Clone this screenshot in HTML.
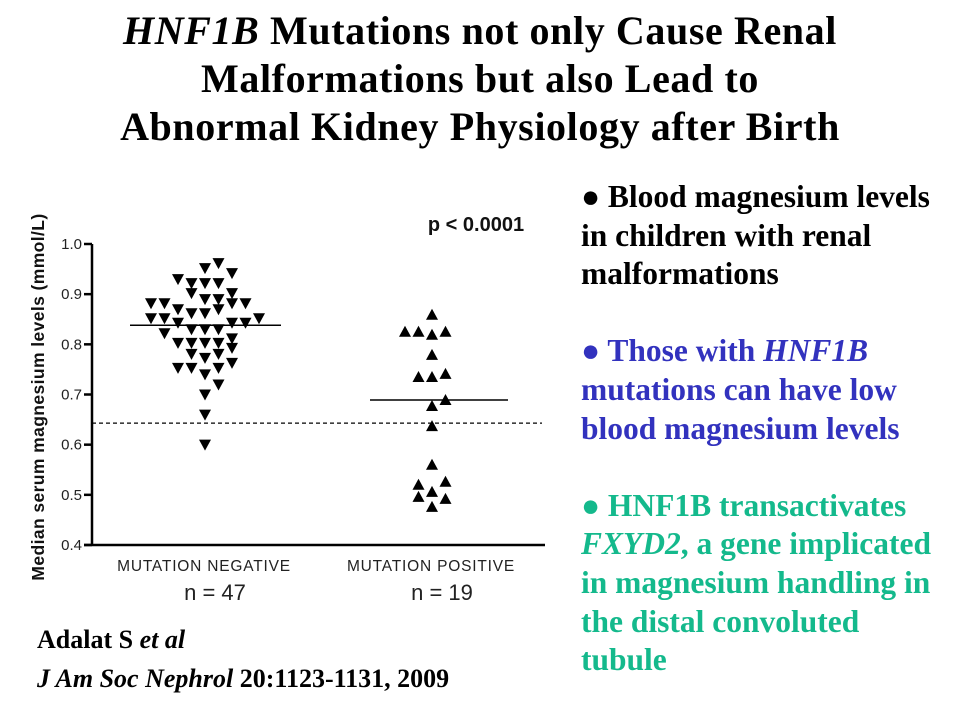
<!DOCTYPE html>
<html><head><meta charset="utf-8">
<style>
html,body{margin:0;padding:0;background:#fff;}
body{width:960px;height:720px;position:relative;overflow:hidden;font-family:"Liberation Serif",serif;}
#title{position:absolute;left:0;top:7px;width:960px;text-align:center;font-weight:bold;font-size:40px;letter-spacing:0.6px;line-height:48px;color:#000;}
#bullets{position:absolute;left:581px;top:178px;width:379px;font-weight:bold;font-size:31.5px;line-height:38.6px;white-space:nowrap;}
.blk{color:#000}.blu{color:#3232be}.grn{color:#14b98c}
#cite{position:absolute;left:37px;top:620px;font-weight:bold;font-size:26px;line-height:39px;color:#000;white-space:nowrap;}
svg{position:absolute;left:0;top:0;}
</style></head><body>
<div id="title"><i>HNF1B</i> Mutations not only Cause Renal<br>Malformations but also Lead to<br>Abnormal Kidney Physiology after Birth</div>
<div id="bullets">
<div class="blk">● Blood magnesium levels<br>in children with renal<br>malformations</div>
<div>&nbsp;</div>
<div class="blu">● Those with <i>HNF1B</i><br>mutations can have low<br>blood magnesium levels</div>
<div>&nbsp;</div>
<div class="grn">● HNF1B transactivates<br><i>FXYD2</i>, a gene implicated<br>in magnesium handling in<br>the distal convoluted<br>tubule</div>
</div>
<div id="cite">Adalat S <i>et al</i><br><i>J Am Soc Nephrol</i> 20:1123-1131, 2009</div>
<svg id="chart" width="960" height="720" font-family="Liberation Sans, sans-serif"></svg>
<script>
const yTicks=[0.4,0.5,0.6,0.7,0.8,0.9,1.0];
const tickLabels=["0.4","0.5","0.6","0.7","0.8","0.9","1.0"];
const categories=["MUTATION NEGATIVE","MUTATION POSITIVE"];
const nLabels=["n = 47","n = 19"];
const negValues=[0.962,0.952,0.942,0.930,0.922,0.922,0.922,0.902,0.902,0.89,0.89,0.882,0.882,0.882,0.882,0.87,0.87,0.862,0.862,0.852,0.852,0.852,0.843,0.843,0.843,0.83,0.83,0.83,0.822,0.812,0.803,0.803,0.803,0.803,0.793,0.781,0.781,0.773,0.763,0.753,0.753,0.753,0.74,0.72,0.70,0.66,0.60];
const negCols=[1,0,2,-2,-1,0,1,-1,2,0,1,-4,-3,2,3,-2,1,-1,0,-4,-3,4,-2,2,3,-1,0,1,-3,2,-2,-1,0,1,2,-1,1,0,2,-2,-1,1,0,1,0,0,0];
const posValues=[0.859,0.825,0.825,0.825,0.819,0.779,0.735,0.735,0.741,0.689,0.677,0.637,0.56,0.526,0.52,0.506,0.496,0.492,0.476];
const posCols=[0,-2,-1,1,0,0,-1,0,1,1,0,0,0,1,-1,0,-1,1,0];
const medians=[0.838,0.689];
const refLine=0.643;
const pText="p < 0.0001";

const svg=document.getElementById('chart');
const NS='http://www.w3.org/2000/svg';
const x0=92,x1=545,yTop=244,yBot=545,vMin=0.4,vMax=1.0;
const centers=[205,432],colStep=13.5;
function Y(v){return yBot-(v-vMin)/(vMax-vMin)*(yBot-yTop);}
function mk(tag,attrs){const e=document.createElementNS(NS,tag);for(const k in attrs)e.setAttribute(k,attrs[k]);svg.appendChild(e);return e;}

let e=mk('line',{x1:x0,y1:yTop,x2:x0,y2:yBot,stroke:'#000','stroke-width':2.5});


e=mk('line',{x1:x0-8,y1:yBot,x2:x1,y2:yBot,stroke:'#000','stroke-width':2.5});


yTicks.forEach((t,i)=>{
  let l=mk('line',{x1:x0-8,y1:Y(t),x2:x0,y2:Y(t),stroke:'#000','stroke-width':2.5});
  
  
  let tx=mk('text',{x:x0-10,y:Y(t)+5,'text-anchor':'end','font-size':15,fill:'#222'});
  tx.textContent=tickLabels[i];
  
  
});
let yt=mk('text',{x:0,y:0,transform:'translate(44,397) rotate(-90)','text-anchor':'middle','font-size':17.5,'font-weight':'bold','letter-spacing':0.4,fill:'#111'});
yt.textContent='Median serum magnesium levels (mmol/L)';


categories.forEach((c,i)=>{
  let t=mk('text',{x:centers[i]-1,y:571,'text-anchor':'middle','font-size':15.5,'letter-spacing':0.8,fill:'#222'});
  t.textContent=c;
  
  
  let n=mk('text',{x:centers[i]+10,y:600,'text-anchor':'middle','font-size':22,fill:'#222'});
  n.textContent=nLabels[i];
  
  
});
let rl=mk('line',{x1:x0,y1:Y(refLine),x2:542,y2:Y(refLine),stroke:'#000','stroke-width':1.3,'stroke-dasharray':'4,3'});


const medX=[[130,281],[370,508]];
medians.forEach((m,i)=>{
  let l=mk('line',{x1:medX[i][0],y1:Y(m),x2:medX[i][1],y2:Y(m),stroke:'#000','stroke-width':1.5});
  
  
});
negValues.forEach((v,i)=>{
  const cx=centers[0]+negCols[i]*colStep,cy=Y(v);
  let p=mk('polygon',{points:`${cx-6},${cy-5} ${cx+6},${cy-5} ${cx},${cy+6}`,fill:'#000'});
  
  
});
posValues.forEach((v,i)=>{
  const cx=centers[1]+posCols[i]*colStep,cy=Y(v);
  let p=mk('polygon',{points:`${cx-6},${cy+5} ${cx+6},${cy+5} ${cx},${cy-6}`,fill:'#000'});
  
  
});
let pt=mk('text',{x:476,y:231,'text-anchor':'middle','font-size':20,'font-weight':'bold',fill:'#111'});
pt.textContent=pText;


</script>
</body></html>
